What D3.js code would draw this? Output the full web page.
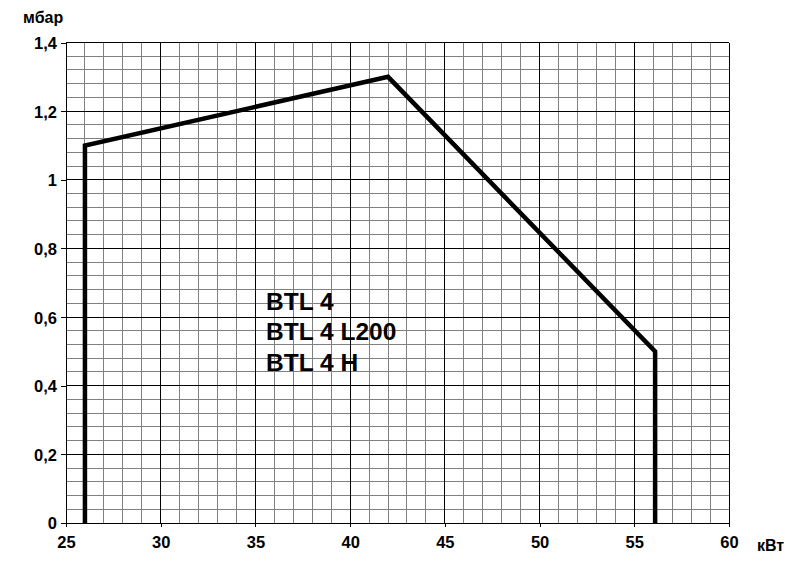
<!DOCTYPE html>
<html>
<head>
<meta charset="utf-8">
<script src="https://cdn.jsdelivr.net/npm/d3@7"></script>
<style>
  body { margin: 0; background: #fff; }
  text { font-family: Arial, "Liberation Sans", sans-serif; font-weight: bold; fill: #000; }
</style>
</head>
<body>
<div id="chart"></div>
<script>
// working range of the burner
const powerKw = [26, 26, 42, 56.1, 56.1];
const pressureMbar = [0, 1.1, 1.3, 0.5, 0];
const xTicks = [25, 30, 35, 40, 45, 50, 55, 60];
const yTicks = [0, 0.2, 0.4, 0.6, 0.8, 1, 1.2, 1.4];
const modelLabels = ["BTL 4", "BTL 4 L200", "BTL 4 H"];

const width = 794, height = 567;
const margin = { top: 42.5, right: 65, bottom: 44, left: 66 };

const svg = d3.select("#chart")
    .append("svg")
    .attr("width", width)
    .attr("height", height);

const x = d3.scaleLinear().domain([25, 60]).range([margin.left, width - margin.right]);
const y = d3.scaleLinear().domain([0, 1.4]).range([height - margin.bottom, margin.top]);

const fmt = d => String(d).replace(".", ",");

// minor grid
const grid = svg.append("g").attr("shape-rendering", "crispEdges");
grid.selectAll(".vminor")
    .data(d3.range(26, 60, 1).filter(v => v % 5 !== 0))
    .enter().append("line")
    .attr("x1", d => x(d)).attr("x2", d => x(d))
    .attr("y1", y(0)).attr("y2", y(1.4))
    .style("stroke", "#808080");
grid.selectAll(".hminor")
    .data(d3.range(1, 35).filter(i => i % 5 !== 0).map(i => i * 0.04))
    .enter().append("line")
    .attr("x1", x(25)).attr("x2", x(60))
    .attr("y1", d => y(d)).attr("y2", d => y(d))
    .style("stroke", "#808080");

// major grid
grid.selectAll(".vmajor")
    .data(xTicks)
    .enter().append("line")
    .attr("x1", d => x(d)).attr("x2", d => x(d))
    .attr("y1", y(0)).attr("y2", y(1.4))
    .style("stroke", "#000");
grid.selectAll(".hmajor")
    .data(yTicks)
    .enter().append("line")
    .attr("x1", x(25)).attr("x2", x(60))
    .attr("y1", d => y(d)).attr("y2", d => y(d))
    .style("stroke", "#000");

// axes
const xAxis = svg.append("g")
    .attr("transform", `translate(0,${y(0)})`)
    .call(d3.axisBottom(x).tickValues(xTicks).tickSize(4).tickPadding(9).tickFormat(fmt));
const yAxis = svg.append("g")
    .attr("transform", `translate(${x(25)},0)`)
    .call(d3.axisLeft(y).tickValues(yTicks).tickSize(5).tickPadding(4).tickFormat(fmt));
[xAxis, yAxis].forEach(a => {
    a.select(".domain").style("stroke", "#000").attr("shape-rendering", "crispEdges");
    a.selectAll(".tick line").style("stroke", "#000").attr("shape-rendering", "crispEdges");
    a.selectAll("text").style("font-size", "16.5px").style("font-family", "Arial, 'Liberation Sans', sans-serif").style("font-weight", "bold");
});
yAxis.selectAll("text").attr("dy", "0.36em");

// axis titles
svg.append("text").attr("x", 23).attr("y", 23).style("font-size", "16px").text("мбар");
svg.append("text").attr("x", 757).attr("y", 551).style("font-size", "16px").text("кВт");

// working field outline
const line = d3.line()
    .x((d, i) => x(powerKw[i]))
    .y(d => y(d));
svg.append("path")
    .datum(pressureMbar)
    .attr("d", line)
    .style("fill", "none")
    .style("stroke", "#000")
    .style("stroke-width", 4.5)
    .style("stroke-linejoin", "miter");

// model names
svg.selectAll(".model")
    .data(modelLabels)
    .enter().append("text")
    .attr("x", 266)
    .attr("y", (d, i) => 309.5 + i * 30.5)
    .style("font-size", "24.5px")
    .text(d => d);
</script>
</body>
</html>
